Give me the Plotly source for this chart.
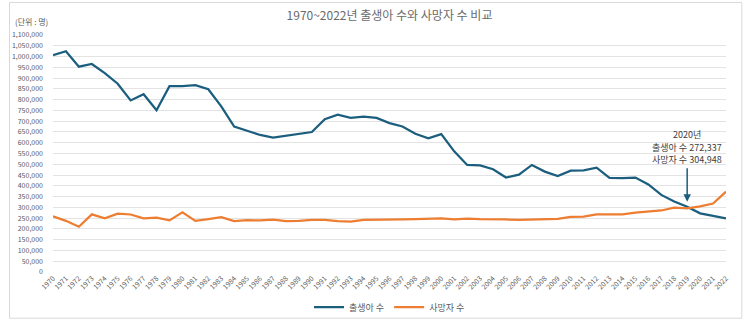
import plotly.graph_objects as go

years = list(range(1970, 2023))
births = [1006645, 1024773, 952780, 965521, 922823, 874030, 796331, 825339, 750728, 862669,
          862835, 867409, 848312, 769155, 674793, 655489, 636019, 623831, 633092, 639431,
          649738, 709275, 730678, 715826, 721185, 715020, 691226, 675394, 641594, 620668,
          640089, 559934, 496911, 495036, 476958, 438707, 451759, 496822, 465892, 444849,
          470171, 471265, 484550, 436455, 435435, 438420, 406243, 357771, 326822, 302676,
          272337, 260562, 249186]
deaths = [258589, 237528, 210071, 267460, 248807, 270657, 266857, 249254, 252711, 239600,
          277284, 237481, 245767, 254563, 236445, 240418, 239256, 243504, 235779, 236818,
          241616, 242270, 236162, 234257, 242439, 242838, 241149, 244693, 245825, 246539,
          248740, 243813, 247524, 245317, 245771, 243883, 242266, 244874, 246113, 246942,
          255405, 257396, 267221, 266257, 267692, 275895, 280827, 285534, 298820, 295110,
          304948, 317680, 372939]
series_names = ["출생아 수", "사망자 수"]
colors = ["#1b5e7e", "#ed7d31"]
title = "1970~2022년 출생아 수와 사망자 수 비교"
unit_label = "(단위 : 명)"
note_lines = ["2020년", "출생아 수 272,337", "사망자 수 304,948"]
note_y = [636000, 578000, 520000]
arrow_year = 2019
arrow_value = 302676
y_ticks = list(range(0, 1100001, 50000))

FONT = "Noto Sans CJK KR, Malgun Gothic, sans-serif"

fig = go.Figure()
fig.add_trace(go.Scatter(x=years, y=births, mode="lines", name=series_names[0],
                         line=dict(color=colors[0], width=2.25)))
fig.add_trace(go.Scatter(x=years, y=deaths, mode="lines", name=series_names[1],
                         line=dict(color=colors[1], width=2.25)))

fig.update_layout(
    width=743, height=334,
    margin=dict(l=45, r=17, t=35, b=50),
    paper_bgcolor="white", plot_bgcolor="white",
    font=dict(family=FONT, color="#595959"),
    title=dict(text=title, x=0.5, xref="paper", xanchor="center", y=0.952, yanchor="middle",
               font=dict(size=12, color="#6a6a6a", family=FONT)),
    showlegend=True,
    legend=dict(orientation="h", x=0.5, xanchor="center", y=-0.148, yanchor="middle",
                font=dict(size=9, color="#595959"), itemwidth=30, bgcolor="rgba(0,0,0,0)"),
    xaxis=dict(range=[1970, 2022], tickmode="array", tickvals=years,
               ticktext=[str(y) for y in years], tickangle=-45,
               tickfont=dict(size=7, color="#595959"), showgrid=False, zeroline=False,
               showline=False, ticks="", fixedrange=True),
    yaxis=dict(range=[0, 1100000], tickmode="array", tickvals=y_ticks,
               ticktext=[f"{v:,}" for v in y_ticks], tickfont=dict(size=7, color="#595959"),
               gridcolor="#e3e3e3", gridwidth=1, zeroline=False, showline=False, ticks="",
               ticklabelstandoff=9),
)

fig.add_annotation(xref="paper", yref="paper", x=-0.059, y=1.056, xanchor="left", yanchor="middle",
                   text=unit_label, showarrow=False, font=dict(size=8, color="#595959"))
fig.add_annotation(x=arrow_year, y=arrow_value, text="", showarrow=True, ax=0, ay=-40,
                   arrowhead=2, arrowsize=1, arrowwidth=1.5, arrowcolor=colors[0], standoff=5)
for txt, yv in zip(note_lines, note_y):
    fig.add_annotation(x=arrow_year, y=yv, text=txt, showarrow=False, xanchor="center",
                       yanchor="middle", align="center", borderpad=0,
                       font=dict(size=9, color="#404040"))
fig.add_shape(type="rect", xref="paper", yref="paper", x0=-0.0646, x1=1.0235, y0=-0.195, y1=1.137,
              line=dict(color="#d9d9d9", width=1), fillcolor="rgba(0,0,0,0)", layer="below")

fig.write_html("out.html")
